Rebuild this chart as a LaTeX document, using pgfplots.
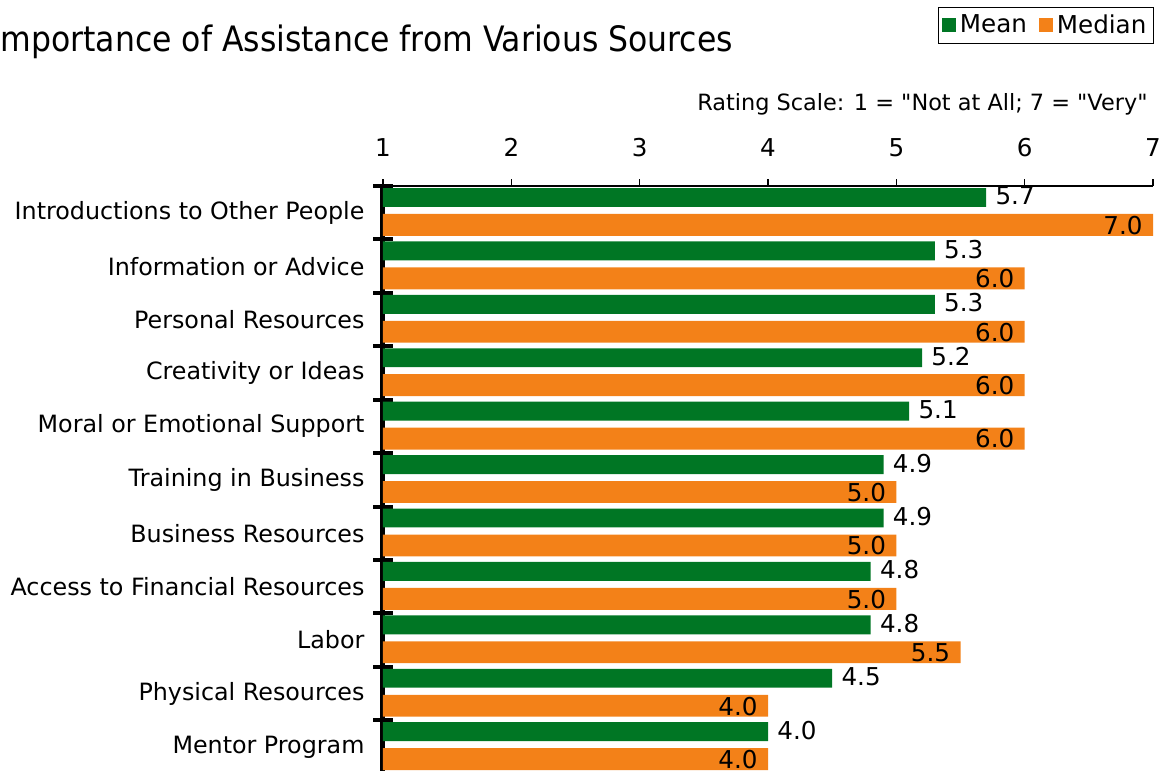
\documentclass[border=0pt]{standalone}
\usepackage{pgfplots}
\pgfplotsset{compat=1.18}
\usepackage{fontspec}
\setmainfont{DejaVu Sans}
\newfontfamily\condfont{DejaVu Sans Condensed}
\definecolor{mgreen}{RGB}{0,118,36}
\definecolor{morange}{RGB}{243,129,24}
\begin{document}
\begin{tikzpicture}
\useasboundingbox (0,0) rectangle (584pt,-385.5pt);
\clip (0,0) rectangle (584pt,-385.5pt);
\begin{axis}[
 at={(191.5pt,-93pt)}, anchor=north west,
 scale only axis, width=385pt, height=293.8pt,
 xmin=1, xmax=7, ymin=-0.5, ymax=10.5,
 axis x line=top, axis y line=left, axis line style={-},
 x axis line style={black, line width=0.6pt},
 y axis line style={black, line width=2.5pt},
 xtick={1,...,7}, xtick align=outside, major tick length=3.5pt,
 x tick style={black, line width=0.6pt},
 /pgf/number format/assume math mode=true,
 ticklabel style={font=\fontsize{12.3pt}{14pt}\selectfont},
 xticklabel style={yshift=7.5pt},
 ytick={0,...,10},
 yticklabels={Mentor Program, Physical Resources, Labor, Access to Financial Resources, Business Resources, Training in Business, Moral or Emotional Support, Creativity or Ideas, Personal Resources, Information or Advice, Introductions to Other People},
 major y tick style={draw=none},
 minor ytick={0.5,1.5,...,10.5}, minor tick length=9.5pt, ytick align=center,
 minor y tick style={black, line width=2pt},
 yticklabel style={anchor=east, xshift=-4pt, font=\fontsize{11.9pt}{14pt}\selectfont},
 point meta=x,
 legend columns=2,
 legend style={at={(1.0013,1.3046)}, anchor=north east, draw=black, line width=0.6pt,
   font=\fontsize{12.3pt}{14pt}\selectfont, inner sep=1.5pt,
   /tikz/every even column/.append style={column sep=4pt}},
 legend image code/.code={\fill[#1] (0pt,-3.5pt) rectangle (7pt,3.5pt);},
]
\addplot[xbar, fill=mgreen, draw=none, bar width=0.355, bar shift=0.285,
  nodes near coords={\pgfmathprintnumber[fixed,fixed zerofill,precision=1]{\pgfplotspointmeta}},
  nodes near coords align=horizontal,
  every node near coord/.append style={anchor=west, inner sep=1pt, font=\fontsize{12.3pt}{14pt}\selectfont, black, xshift=3.5pt, yshift=8.3pt}]
 coordinates {(5.7,10) (5.3,9) (5.3,8) (5.2,7) (5.1,6) (4.9,5) (4.9,4) (4.8,3) (4.8,2) (4.5,1) (4.0,0)};
\addlegendentry{Mean}
\addplot[xbar, fill=morange, draw=none, bar width=0.41, bar shift=-0.229,
  nodes near coords={\pgfmathprintnumber[fixed,fixed zerofill,precision=1]{\pgfplotspointmeta}},
  nodes near coords align=horizontal,
  every node near coord/.append style={anchor=east, inner sep=1pt, font=\fontsize{12.3pt}{14pt}\selectfont, black, xshift=-4pt, yshift=-6.3pt}]
 coordinates {(7.0,10) (6.0,9) (6.0,8) (6.0,7) (6.0,6) (5.0,5) (5.0,4) (5.0,3) (5.5,2) (4.0,1) (4.0,0)};
\addlegendentry{Median}
\end{axis}
\node[anchor=base west, inner sep=0pt, font=\condfont\fontsize{17.5pt}{21pt}\selectfont] at (-4.5pt,-25.5pt) {Importance of Assistance from Various Sources};
\node[anchor=base east, inner sep=0pt, font=\fontsize{11.2pt}{14pt}\selectfont] at (574pt,-55pt) {Rating Scale: 1 = \textquotedbl Not at All; 7 = \textquotedbl Very\textquotedbl};
\end{tikzpicture}
\end{document}
